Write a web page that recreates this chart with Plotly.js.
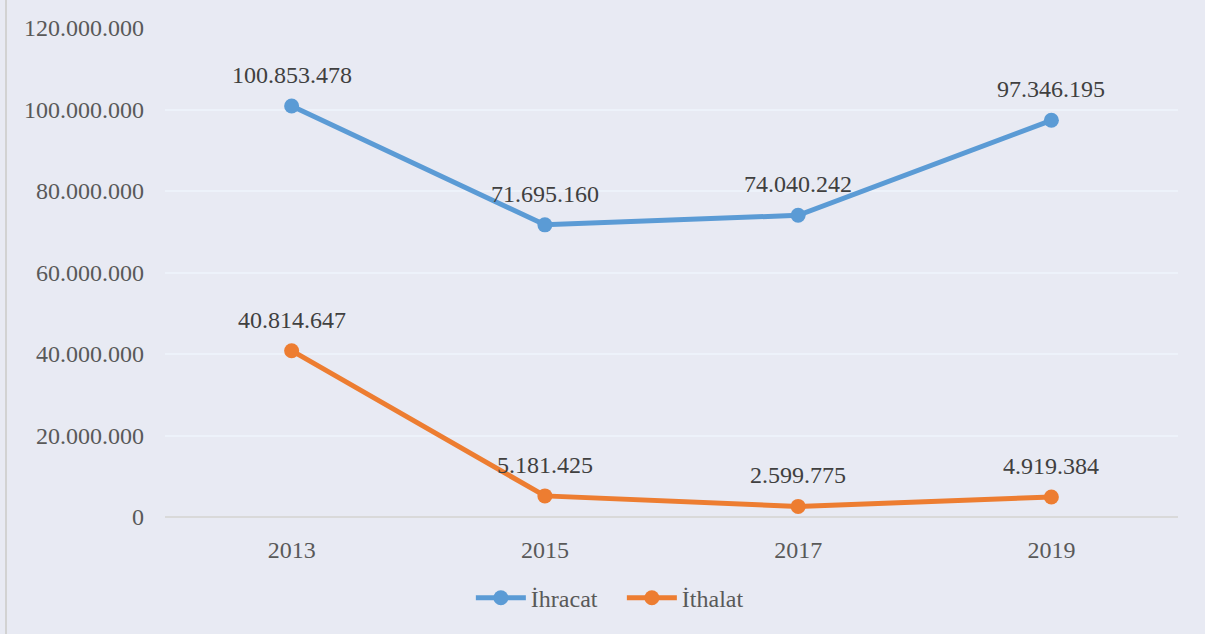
<!DOCTYPE html>
<html>
<head>
<meta charset="utf-8">
<script src="https://cdn.plot.ly/plotly-3.0.1.min.js"></script>
<style>
  html, body { margin: 0; padding: 0; background: #e8eaf3; }
  #chart { width: 1205px; height: 634px; }
</style>
</head>
<body>
<div id="chart"></div>
<script>
// Yıllara göre ihracat ve ithalat değerleri
const years = ['2013', '2015', '2017', '2019'];
const ihracat = [100853478, 71695160, 74040242, 97346195];
const ithalat = [40814647, 5181425, 2599775, 4919384];
const seriesNames = ['İhracat', 'İthalat'];
const yTicks = [0, 20000000, 40000000, 60000000, 80000000, 100000000, 120000000];

const blue = '#5b9bd5';
const orange = '#ed7d31';
const serif = 'Liberation Serif, Times New Roman, serif';

function fmt(v) {
  return String(v).replace(/\B(?=(\d{3})+(?!\d))/g, '.');
}

function lineTrace(name, values, color) {
  return {
    type: 'scatter',
    mode: 'lines+markers',
    name: name,
    x: years,
    y: values,
    line: { color: color, width: 5 },
    marker: { color: color, size: 15 },
    hoverinfo: 'skip'
  };
}

// value labels sit above each marker; on a category axis the index locates the year
function valueLabels(values) {
  return values.map((v, i) => ({
    x: i,
    y: v,
    xref: 'x',
    yref: 'y',
    text: fmt(v),
    showarrow: false,
    yshift: 31,
    font: { family: serif, size: 24, color: '#404040' }
  }));
}

const data = [
  lineTrace(seriesNames[0], ihracat, blue),
  lineTrace(seriesNames[1], ithalat, orange)
];

const layout = {
  width: 1205,
  height: 634,
  margin: { l: 165, r: 27, t: 28, b: 117 },
  paper_bgcolor: '#e8eaf3',
  plot_bgcolor: '#e8eaf3',
  font: { family: serif, size: 24, color: '#595959' },
  showlegend: true,
  legend: {
    orientation: 'h',
    x: 0.451,
    xanchor: 'center',
    y: -0.166,
    yanchor: 'middle',
    itemwidth: 50,
    entrywidth: 86,
    font: { family: serif, size: 24, color: '#595959' },
    bgcolor: 'rgba(0,0,0,0)'
  },
  xaxis: {
    type: 'category',
    range: [-0.5, 3.5],
    showgrid: false,
    zeroline: false,
    showline: false,
    ticks: '',
    ticklabelstandoff: 16,
    tickfont: { family: serif, size: 24, color: '#595959' },
    fixedrange: true
  },
  yaxis: {
    range: [0, 120000000],
    tickvals: yTicks,
    ticktext: yTicks.map(fmt),
    showgrid: true,
    gridcolor: '#edf2fa',
    gridwidth: 2,
    zeroline: true,
    zerolinecolor: '#d9d9d9',
    zerolinewidth: 2,
    showline: false,
    ticks: '',
    ticklabelstandoff: 20,
    tickfont: { family: serif, size: 24, color: '#595959' },
    fixedrange: true
  },
  annotations: valueLabels(ihracat).concat(valueLabels(ithalat)),
  shapes: [
    {
      type: 'line',
      xref: 'paper', yref: 'paper',
      x0: -159 / 1013, x1: -159 / 1013,
      y0: -117 / 489, y1: 1 + 28 / 489,
      line: { color: '#d2d2d2', width: 2 }
    }
  ]
};

Plotly.newPlot('chart', data, layout, { displayModeBar: false, staticPlot: true });
</script>
</body>
</html>
